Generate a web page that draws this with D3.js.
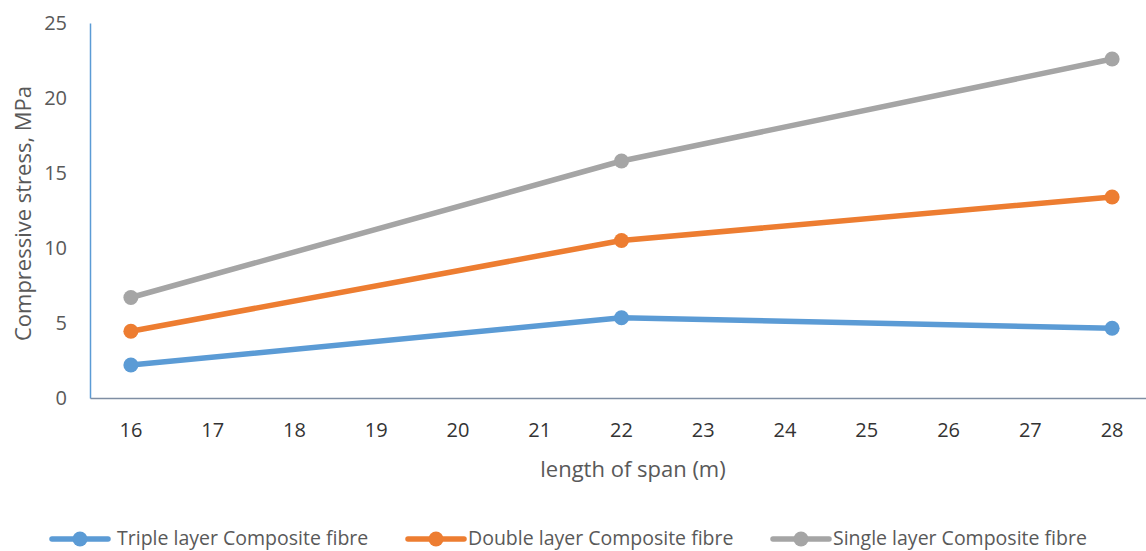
<!DOCTYPE html>
<html>
<head>
<meta charset="utf-8">
<script src="https://cdn.jsdelivr.net/npm/d3@7"></script>
<style>
  html, body { margin: 0; padding: 0; background: #fff; }
  svg { display: block; font-family: "Open Sans", "Noto Sans", sans-serif; }
</style>
</head>
<body>
<svg id="chart" width="1146" height="551"></svg>
<script>
// Span lengths on the x axis (m)
const spans = [16, 17, 18, 19, 20, 21, 22, 23, 24, 25, 26, 27, 28];
// Measured spans
const measuredSpans = [16, 22, 28];
// Compressive stress (MPa) per layer configuration
const tripleLayer = [2.2, 5.35, 4.65];
const doubleLayer = [4.45, 10.5, 13.4];
const singleLayer = [6.7, 15.8, 22.6];
const yTicks = [0, 5, 10, 15, 20, 25];

const seriesNames = ["Triple layer Composite fibre", "Double layer Composite fibre", "Single layer Composite fibre"];
const seriesColors = ["#5b9bd5", "#ed7d31", "#a5a5a5"];
const seriesValues = [tripleLayer, doubleLayer, singleLayer];

const svg = d3.select("#chart");
const plotLeft = 90, plotRight = 1153, plotTop = 23, plotBottom = 398;

const x = d3.scaleBand().domain(spans).range([plotLeft, plotRight]);
const y = d3.scaleLinear().domain([0, 25]).range([plotBottom, plotTop]);
const cx = v => x(v) + x.bandwidth() / 2;

// Y axis
const yAxis = svg.append("g").attr("transform", `translate(${plotLeft},0)`)
  .call(d3.axisLeft(y).tickValues(yTicks).tickSize(0).tickPadding(23));
yAxis.select(".domain").attr("stroke", "#5b9bd5").attr("stroke-width", 1.5);
yAxis.selectAll("text").attr("fill", "#595959").style("font-size", "20px")
  .style("font-family", "'Open Sans', sans-serif");

// X axis
const xAxis = svg.append("g").attr("transform", `translate(0,${plotBottom})`)
  .call(d3.axisBottom(x).tickSize(0).tickPadding(25));
xAxis.select(".domain").attr("stroke", "#7f8ea3").attr("stroke-width", 1.5);
xAxis.selectAll("text").attr("fill", "#333333").style("font-size", "20px")
  .style("font-family", "'Open Sans', sans-serif");

// Axis titles
svg.append("text").attr("x", 633).attr("y", 477)
  .attr("text-anchor", "middle").attr("fill", "#595959").style("font-size", "22px")
  .text("length of span (m)");
svg.append("text").attr("transform", `translate(31,${(plotTop + plotBottom) / 2 + 3}) rotate(-90)`)
  .attr("text-anchor", "middle").attr("fill", "#595959").style("font-size", "22px")
  .text("Compressive stress, MPa");

// Series lines and markers
const line = d3.line().x(d => cx(d.s)).y(d => y(d.v));
seriesValues.forEach((vals, i) => {
  const pts = measuredSpans.map((s, j) => ({ s, v: vals[j] }));
  svg.append("path").datum(pts).attr("d", line)
    .attr("fill", "none").attr("stroke", seriesColors[i])
    .attr("stroke-width", 5.5).attr("stroke-linecap", "round").attr("stroke-linejoin", "round");
  svg.selectAll(null).data(pts).enter().append("circle")
    .attr("cx", d => cx(d.s)).attr("cy", d => y(d.v)).attr("r", 7.5)
    .attr("fill", seriesColors[i]);
});

// Legend
const legendLineX = [52, 408, 773];
const legendTextX = [117, 468, 833];
const legendY = 539;
seriesNames.forEach((name, i) => {
  const g = svg.append("g");
  g.append("line").attr("x1", legendLineX[i]).attr("x2", legendLineX[i] + 56)
    .attr("y1", legendY).attr("y2", legendY)
    .attr("stroke", seriesColors[i]).attr("stroke-width", 5.5).attr("stroke-linecap", "round");
  g.append("circle").attr("cx", legendLineX[i] + 28).attr("cy", legendY).attr("r", 7.5)
    .attr("fill", seriesColors[i]);
  g.append("text").attr("x", legendTextX[i]).attr("y", legendY + 6).attr("fill", "#595959")
    .style("font-size", "19.5px").text(name);
});
</script>
</body>
</html>
